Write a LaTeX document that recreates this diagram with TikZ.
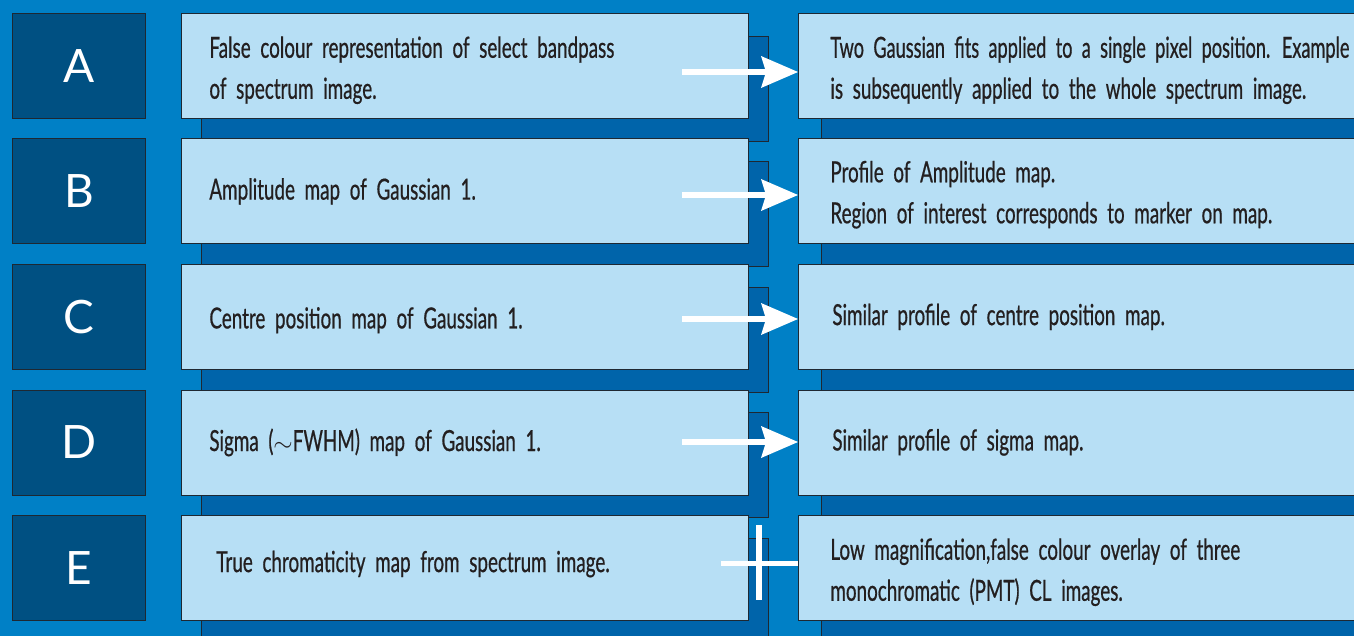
\documentclass[tikz,border=0pt]{standalone}
\usepackage{fontspec}
\usepackage{graphicx}
\setmainfont{Lato}
\newfontfamily\bodyfont[FakeStretch=0.65,FakeBold=0.6]{Lato}
\newfontfamily\letterfont{Lato}
\usetikzlibrary{arrows.meta}
\definecolor{bgblue}{RGB}{0,128,198}
\definecolor{shadowblue}{RGB}{0,100,170}
\definecolor{lblblue}{RGB}{0,80,130}
\definecolor{lightbox}{RGB}{183,223,245}
\definecolor{edge}{RGB}{30,40,50}
\definecolor{txt}{RGB}{35,31,32}
\newcommand{\bodytext}{\bodyfont\fontsize{29}{41}\selectfont\spaceskip=6pt plus 2pt minus 1pt\xspaceskip=6.5pt\hyphenpenalty=10000}
\newcommand{\up}[1]{\rule{0pt}{#1pt}}
\tikzset{
  lbl/.style={draw=edge, fill=lblblue, line width=0.8pt, anchor=north west,
    minimum width=133pt, minimum height=105pt, inner sep=0pt, text=white,
    font=\letterfont\fontsize{46}{46}\selectfont},
  lbox/.style={draw=edge, fill=lightbox, line width=0.8pt, anchor=north west,
    minimum height=105pt, inner ysep=0pt, inner xsep=28pt, text width=511pt,
    align=left, text=txt, font=\bodytext},
  rbox/.style={draw=edge, fill=lightbox, line width=0.8pt, anchor=north west,
    minimum height=105pt, inner ysep=0pt, inner xsep=32pt, text width=640pt,
    align=left, text=txt, font=\bodytext},
  shadow/.style={draw=edge, fill=shadowblue, line width=0.8pt},
  flow/.style={draw=white, line width=6pt,
    -{Stealth[length=37pt, width=32pt, inset=5pt, line width=0pt]}},
  bar/.style={draw=white, line width=6pt}
}
\begin{document}
\begin{tikzpicture}[x=1pt,y=-1pt]
\clip (0,0) rectangle (1354,636);
\fill[bgblue] (0,0) rectangle (1354,636);
% shadows
\foreach \t in {13,138.5,264,389.5,515} {
  \path[shadow] (201,\t+23) rectangle (768,\t+128);
  \path[shadow] (821,\t+23) rectangle (1420,\t+128);
}
% letter boxes
\node[lbl] (LA) at (12,13) {A};
\node[lbl] (LB) at (12,138.5) {B};
\node[lbl] (LC) at (12,264) {C};
\node[lbl] (LD) at (12,389.5) {D};
\node[lbl] (LE) at (12,515) {E};
% left boxes
\node[lbox] (MA) at (181,13) {\up{30}False colour representation of select bandpass\\of spectrum image.};
\node[lbox] (MB) at (181,138.5) {Amplitude map of Gaussian 1.};
\node[lbox] (MC) at (181,264) {\up{28}Centre position map of Gaussian 1.};
\node[lbox] (MD) at (181,389.5) {Sigma ($\sim$FWHM) map of Gaussian 1.};
\node[lbox] (ME) at (181,515) {\hspace*{7pt}True chromaticity map from spectrum image.\rule[-13pt]{0pt}{0pt}};
% right boxes
\node[rbox] (RA) at (798,13) {\up{30}\resizebox{519pt}{\height}{Two Gaussian fits applied to a single pixel position.\hspace{12pt}Example}\\is subsequently applied to the whole spectrum image.};
\node[rbox] (RB) at (798,138.5) {\up{28}Profile of Amplitude map.\\Region of interest corresponds to marker on map.};
\node[rbox] (RC) at (798,264) {\hspace*{2pt}Similar profile of centre position map.};
\node[rbox] (RD) at (798,389.5) {\hspace*{2pt}Similar profile of sigma map.};
\node[rbox] (RE) at (798,515) {\up{30}Low magnification,false colour overlay of three\\monochromatic (PMT) CL images.};
% arrows
\coordinate (sA) at (682,72);
\coordinate (sB) at (682,195);
\coordinate (sC) at (682,319);
\coordinate (sD) at (682,442);
\draw[flow] (sA) -- (sA -| RA.west);
\draw[flow] (sB) -- (sB -| RB.west);
\draw[flow] (sC) -- (sC -| RC.west);
\draw[flow] (sD) -- (sD -| RD.west);
% cross in row E
\coordinate (sE) at (721,563);
\coordinate (vT) at (759,525);
\coordinate (vB) at (759,600);
\draw[bar, line width=5pt] (sE) -- (sE -| RE.west);
\draw[bar] (vT) -- (vB);
\end{tikzpicture}
\end{document}
